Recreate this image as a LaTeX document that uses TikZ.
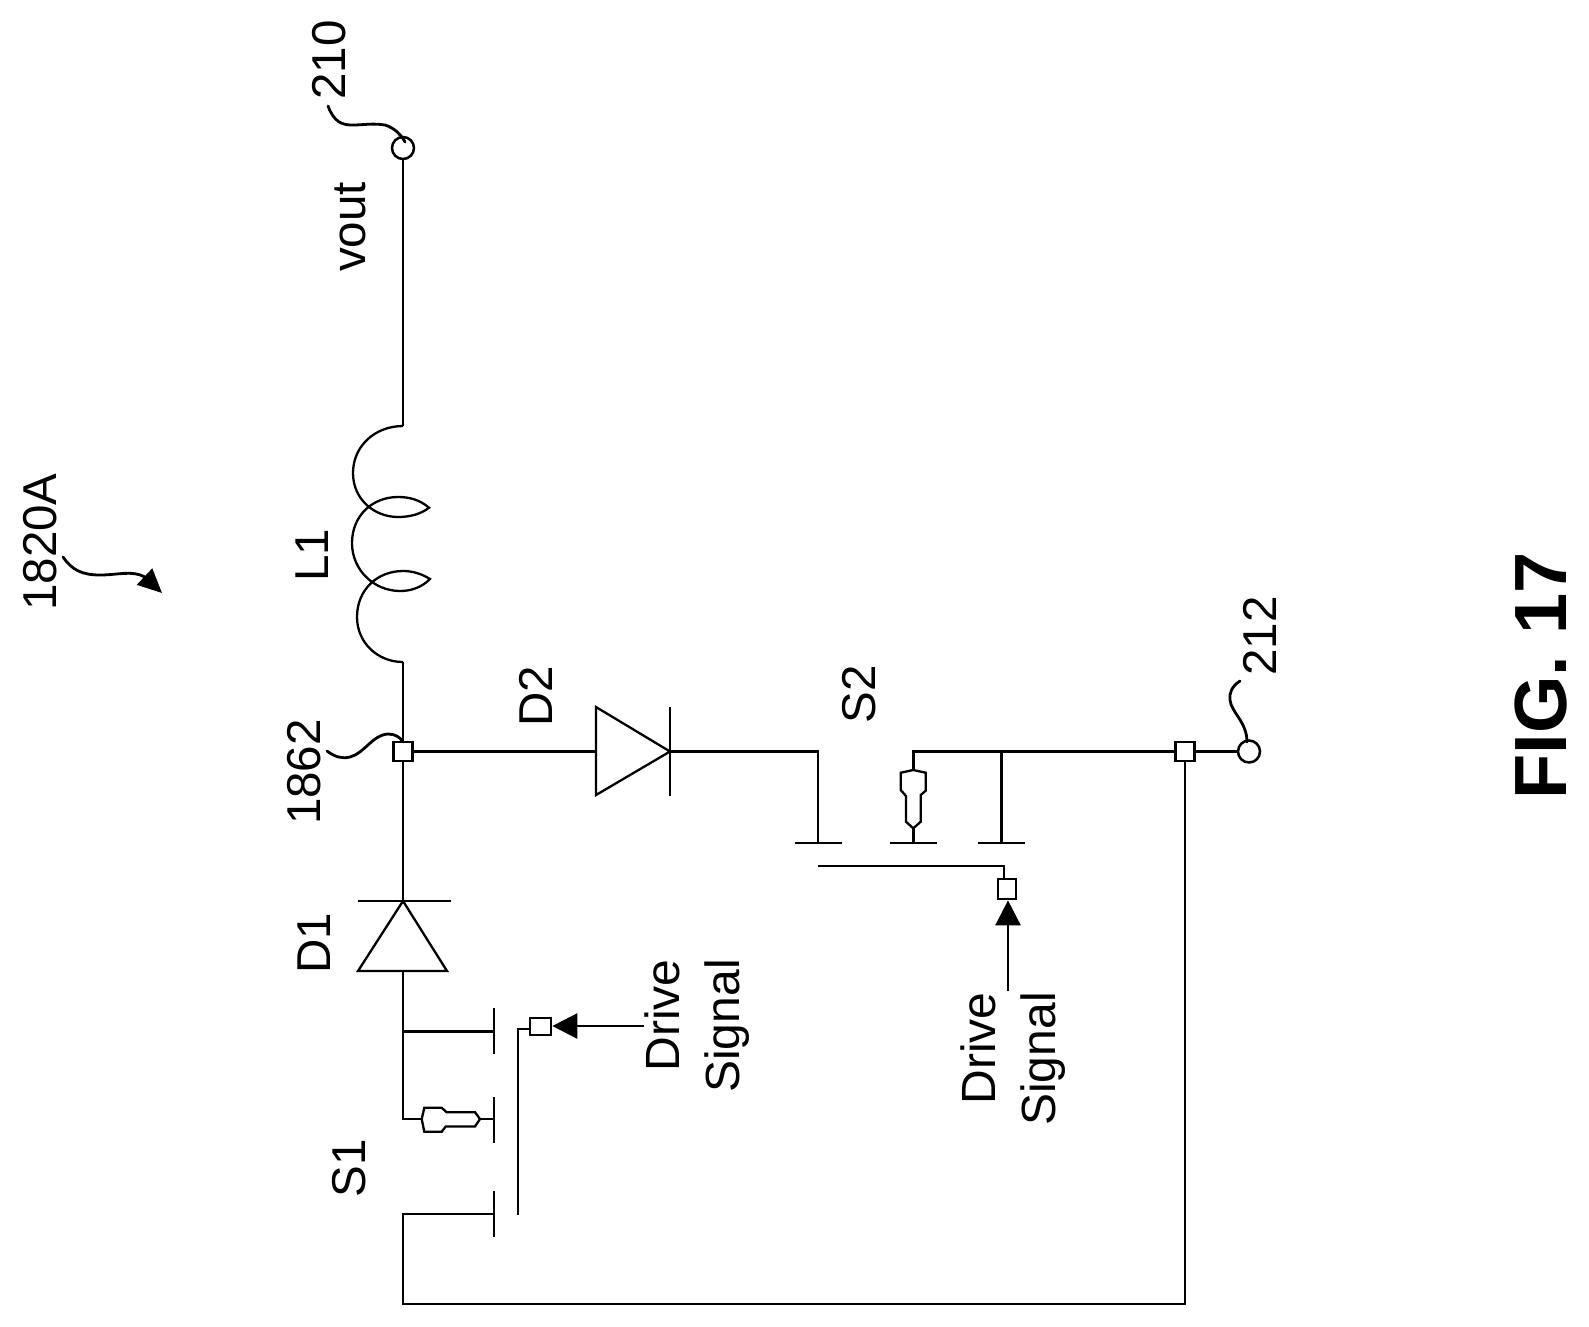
\documentclass[tikz,border=0pt]{standalone}
\usepackage{fontspec}
\setmainfont{Liberation Sans}
\usetikzlibrary{arrows.meta}
\tikzset{
  wire/.style={line width=2.7pt,line join=miter},
  leader/.style={line width=2.8pt,line cap=round},
  pin/.style={draw,line width=2.5pt,circle,minimum size=22pt,inner sep=0pt,fill=white},
  junction/.style={draw,line width=2.7pt,rectangle,minimum size=19pt,inner sep=0pt,fill=white},
  lab/.style={rotate=90,anchor=base,inner sep=0pt,font=\fontsize{47.5}{60}\selectfont},
  figlab/.style={rotate=90,anchor=base,inner sep=0pt,font=\fontsize{74}{90}\selectfont\bfseries},
  drivelab/.style={rotate=90,anchor=center,inner sep=0pt,align=right,font=\fontsize{48}{60}\selectfont},
  arrowed/.style={wire,-{Triangle[width=25pt,length=25pt]}},
  refarrow/.style={leader,-{Triangle[width=22pt,length=24pt]}}
}
\begin{document}
\begin{tikzpicture}[x=1pt,y=-1pt]
\useasboundingbox (0,0) rectangle (1589,1326);
% terminals and junctions
\node[pin] (t210) at (403,148) {};
\node[pin] (t212) at (1249,751.5) {};
\node[junction] (n1862) at (403,751.5) {};
\node[junction] (n212) at (1185,751.5) {};
\node[junction,minimum width=18pt,minimum height=20pt] (g2) at (1007,889) {};
\node[junction,minimum width=21pt,minimum height=17pt] (g1) at (540.5,1026.5) {};
% coordinates
\coordinate (Ltop) at (403,426);
\coordinate (Lbot) at (403,662);
\coordinate (D1cath) at (403,901);
\coordinate (D1base) at (403,971);
\coordinate (D2base) at (596,751.5);
\coordinate (D2cath) at (670,751.5);
\coordinate (S1dr) at (494,1031.5);
\coordinate (S1bd) at (494,1119);
\coordinate (S1so) at (494,1214);
\coordinate (S2dr) at (818,843);
\coordinate (S2bd) at (913.5,843);
\coordinate (S2so) at (1001.5,843);
\coordinate (J1) at (403,1031.5);
\coordinate (J2) at (403,1119);
\coordinate (J3) at (403,1214);
\coordinate (J4) at (403,1304);
\coordinate (J5) at (1185,1304);
\coordinate (J6) at (913.5,751.5);
\coordinate (J7) at (1001.5,751.5);
\coordinate (G1a) at (518,1029);
\coordinate (G1b) at (518,1215);
\coordinate (G2a) at (1004,866);
\coordinate (G2b) at (818,866);
\coordinate (A1) at (644,1026);
\coordinate (A2) at (1008,991);
% main wires
\draw[wire] (t210.south) -- (Ltop);
\draw[wire] (Lbot) -- (n1862.north);
\draw[wire] (n1862.south) -- (D1cath);
\draw[wire] (D1base) -- (J2) -- ++(18.5,0);
\draw[wire] (J1) -- (S1dr);
\draw[wire] (S1so) -- (J3) -- (J4) -- (J5) -- (n212.south);
\draw[wire] (n1862.east) -- (D2base);
\draw[wire] (D2cath) -| (S2dr);
\draw[wire] (S2bd |- 0,770) -- (J6) -- (n212.west);
\draw[wire] (J7) -- (S2so);
\draw[wire] (n212.east) -- (t212.west);
% inductor
\draw[wire,line width=2.3pt] (Ltop) .. controls (375,426) and (353,446) .. (353,473)
  .. controls (353,500) and (375,517) .. (398,517)
  .. controls (410,517) and (421,514) .. (429,507.7)
  .. controls (420,500) and (410,497) .. (398,497)
  .. controls (372,497) and (352,516) .. (352,543)
  .. controls (352,570) and (374,591) .. (400,591)
  .. controls (412,591) and (422,587) .. (430,579)
  .. controls (422,574) and (413,571) .. (403,571)
  .. controls (377,571) and (357,590) .. (357,617)
  .. controls (357,643) and (378,662) .. (Lbot);
% diodes
\draw[wire,line width=2.3pt] (D1cath) -- (358,971) -- (447,971) -- cycle;
\draw[wire] (358,901) -- (451,901);
\draw[wire,line width=2.3pt] (D2cath) -- (596,707) -- (596,795) -- cycle;
\draw[wire] (670,707) -- (670,796);
% S1 plates
\draw[wire] (494,1008) -- (494,1054);
\draw[wire] (494,1097) -- (494,1143);
\draw[wire] (494,1191) -- (494,1237);
\draw[wire] (G1b) -- (G1a) -- (g1.west |- G1a);
\draw[wire,line width=2.3pt] (421.7,1119) -- (424.3,1107.7) -- (441.7,1107.7) -- (446.7,1112.3) -- (475,1112.3) -- (480,1119) -- (475,1126.5) -- (445.7,1126.5) -- (441.7,1131.7) -- (424.3,1131.7) -- cycle;
\draw[wire] (480,1119) -- (S1bd);
% S2 plates
\draw[wire] (795,843) -- (842,843);
\draw[wire] (890,843) -- (937,843);
\draw[wire] (978,843) -- (1025,843);
\draw[wire] (G2b) -- (G2a) -- (G2a |- g2.north);
\draw[wire,line width=2.3pt] (913.3,770) -- (925.7,772.7) -- (925.7,790.7) -- (920.7,795) -- (920.7,821.7) -- (913.3,828.3) -- (906,821.7) -- (906,796) -- (900.7,790) -- (900.7,772.7) -- cycle;
\draw[wire] (913.5,828) -- (S2bd);
% drive arrows
\draw[arrowed] (A1) -- (g1.east |- A1);
\draw[arrowed] (A2) -- (A2 |- g2.south);
% reference leaders
\coordinate (R1820) at (63,557);
\coordinate (R1820e) at (162,593);
\draw[refarrow] (R1820) .. controls (72,570) and (82,575) .. (100,575) .. controls (118,575) and (132,570) .. (145,577) -- (R1820e);
\coordinate (R210) at (328,106);
\draw[leader] (R210) .. controls (334,122) and (342,125) .. (352,125) .. controls (365,125) and (372,123) .. (385,125) .. controls (395,128) and (402,136) .. (405,142);
\coordinate (R1862) at (327,751);
\draw[leader] (R1862) .. controls (335,757) and (342,759) .. (350,757) .. controls (365,753) and (372,735) .. (388,734) .. controls (395,734) and (400,737) .. (403,742);
\coordinate (R212) at (1240,681);
\draw[leader] (R212) .. controls (1232,686) and (1229,693) .. (1230,700) .. controls (1231,712) and (1247,722) .. (1247,742);
% labels
\node[lab] (l1820) at (56,542) {1820A};
\node[lab] (l210) at (345,60) {210};
\node[lab] (lvout) at (365,227) {vout};
\node[lab] (lL1) at (328,555) {L1};
\node[lab] (l1862) at (320,772) {1862};
\node[lab] (lD2) at (552,696) {D2};
\node[lab] (lS2) at (875.5,694) {S2};
\node[lab] (lD1) at (330,943) {D1};
\node[lab] (lS1) at (365,1168) {S1};
\node[lab] (l212) at (1276,636) {212};
\node[drivelab] (ds1) at (697,1026) {Drive\\Signal};
\node[drivelab] (ds2) at (1013,1059) {Drive\\Signal};
\node[figlab] (fig) at (1566,676) {FIG. 17};
\end{tikzpicture}
\end{document}
